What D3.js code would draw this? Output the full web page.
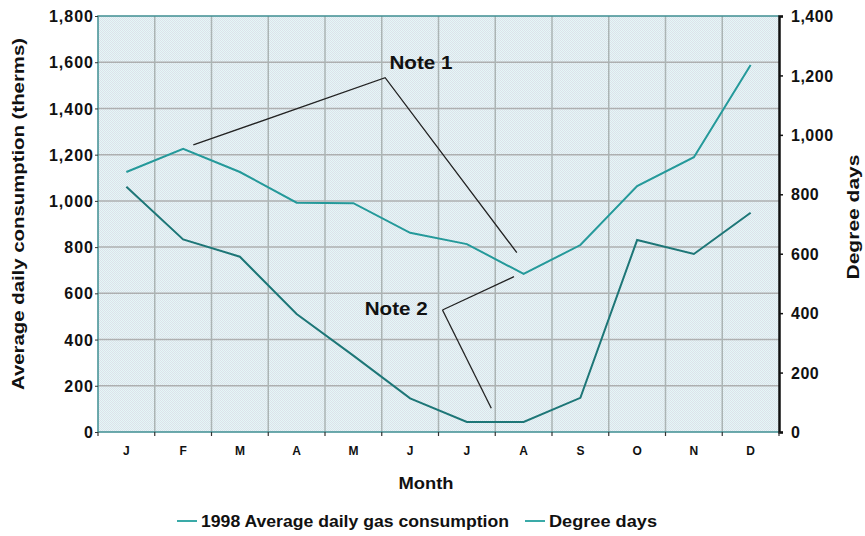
<!DOCTYPE html>
<html>
<head>
<meta charset="utf-8">
<script src="https://cdn.jsdelivr.net/npm/d3@7"></script>
<style>
  body { margin: 0; background: #fff; }
  text { font-family: "Liberation Sans", Arial, sans-serif; font-weight: bold; fill: #111; }
</style>
</head>
<body>
<div class="chart"></div>
<script>
const months = ["J", "F", "M", "A", "M", "J", "J", "A", "S", "O", "N", "D"];
const gasUse = [1125, 1225, 1125, 992, 990, 862, 813, 684, 809, 1064, 1189, 1588];
const degreeDays = [825, 648, 590, 397, 257, 113, 34, 34, 115, 646, 599, 738];
const leftTicks = [0, 200, 400, 600, 800, 1000, 1200, 1400, 1600, 1800];
const rightTicks = [0, 200, 400, 600, 800, 1000, 1200, 1400];

// leader lines, in month index / therms
const note1 = [[1.18, 1242], [4.56, 1533], [6.88, 776]];
const note2a = [[6.83, 672], [5.57, 528]];
const note2b = [[5.57, 528], [6.43, 103]];
const notes = [
  { label: "Note 1", m: 5.19, v: 1571, anchor: "middle" },
  { label: "Note 2", m: 5.31, v: 506, anchor: "end" }
];

const W = 865, H = 536;
const pLeft = 98, pRight = 779, pTop = 16, pBottom = 432;

const svg = d3.select(".chart")
  .append("svg")
  .attr("width", W)
  .attr("height", H);

const xBand = d3.scaleBand().domain(d3.range(12)).range([pLeft, pRight]);
const xm = d3.scaleLinear().domain([-0.5, 11.5]).range([pLeft, pRight]);
const yL = d3.scaleLinear().domain([0, 1800]).range([pBottom, pTop]);
const yR = d3.scaleLinear().domain([0, 1400]).range([pBottom, pTop]);

// dotted background
const defs = svg.append("defs");
const pat = defs.append("pattern")
  .attr("id", "dots")
  .attr("width", 2)
  .attr("height", 2)
  .attr("patternUnits", "userSpaceOnUse");
pat.append("rect").attr("width", 2).attr("height", 2).attr("fill", "#e4f7f7");
pat.append("rect").attr("width", 1).attr("height", 1).attr("fill", "#dde1ea");
pat.append("rect").attr("x", 1).attr("y", 1).attr("width", 1).attr("height", 1).attr("fill", "#dde1ea");

svg.append("rect")
  .attr("x", pLeft).attr("y", pTop)
  .attr("width", pRight - pLeft).attr("height", pBottom - pTop)
  .attr("fill", "url(#dots)");

// grid
svg.append("g")
  .selectAll("line")
  .data(leftTicks.slice(1, -1))
  .join("line")
  .attr("x1", pLeft).attr("x2", pRight)
  .attr("y1", d => yL(d)).attr("y2", d => yL(d))
  .attr("stroke", "#aeafb0").attr("stroke-width", 1.5);

svg.append("g")
  .selectAll("line")
  .data(d3.range(1, 12))
  .join("line")
  .attr("x1", d => xm(d - 0.5)).attr("x2", d => xm(d - 0.5))
  .attr("y1", pTop).attr("y2", pBottom)
  .attr("stroke", "#abb4b4").attr("stroke-width", 1.5);

// frame: teal top/left/bottom
svg.append("path")
  .attr("d", `M${pRight},${pTop}H${pLeft}V${pBottom}H${pRight}`)
  .attr("fill", "none")
  .attr("stroke", "#3f8f92")
  .attr("stroke-width", 1.5);

// left axis
const axL = svg.append("g")
  .attr("transform", `translate(${pLeft},0)`)
  .call(d3.axisLeft(yL).tickValues(leftTicks).tickSize(3).tickPadding(1).tickFormat(d3.format(",")));
axL.select(".domain").remove();
axL.selectAll("line").attr("stroke", "#333");
axL.selectAll("text").attr("font-size", 16).attr("font-family", null).attr("dy", "0.35em").style("letter-spacing", "1px");

// right axis
const axR = svg.append("g")
  .attr("transform", `translate(${pRight},0)`)
  .call(d3.axisRight(yR).tickValues(rightTicks).tickSize(4).tickPadding(8).tickFormat(d3.format(",")));
axR.select(".domain").attr("stroke", "#111").attr("stroke-width", 2.5);
axR.selectAll("line").attr("stroke", "#111").attr("stroke-width", 1.5);
axR.selectAll("text").attr("font-size", 16).attr("font-family", null).attr("dy", "0.35em").style("letter-spacing", "0.5px");

// bottom ticks at month boundaries
svg.append("g")
  .selectAll("line")
  .data(d3.range(13))
  .join("line")
  .attr("x1", d => xm(d - 0.5)).attr("x2", d => xm(d - 0.5))
  .attr("y1", pBottom).attr("y2", pBottom + 4)
  .attr("stroke", "#333").attr("stroke-width", 1.2);

const axB = svg.append("g")
  .attr("transform", `translate(0,${pBottom})`)
  .call(d3.axisBottom(xBand).tickSize(0).tickPadding(14).tickFormat(i => months[i]));
axB.select(".domain").remove();
axB.selectAll("text").attr("font-size", 12).attr("font-family", null);

// series
const lineL = d3.line().x((d, i) => xBand(i) + xBand.bandwidth() / 2).y(d => yL(d));
const lineR = d3.line().x((d, i) => xBand(i) + xBand.bandwidth() / 2).y(d => yR(d));

svg.append("path")
  .datum(gasUse)
  .attr("d", lineL)
  .attr("fill", "none")
  .attr("stroke", "#24999a")
  .attr("stroke-width", 2);

svg.append("path")
  .datum(degreeDays)
  .attr("d", lineR)
  .attr("fill", "none")
  .attr("stroke", "#1d7677")
  .attr("stroke-width", 2);

// notes
const leader = d3.line().x(d => xm(d[0])).y(d => yL(d[1]));
[note1, note2a, note2b].forEach(pts => {
  svg.append("path")
    .attr("d", leader(pts))
    .attr("fill", "none")
    .attr("stroke", "#222")
    .attr("stroke-width", 1.3);
});

svg.selectAll(".note")
  .data(notes)
  .join("text")
  .attr("class", "note")
  .attr("x", d => xm(d.m))
  .attr("y", d => yL(d.v))
  .attr("text-anchor", d => d.anchor)
  .attr("font-size", 18)
  .attr("textLength", 63)
  .attr("lengthAdjust", "spacingAndGlyphs")
  .text(d => d.label);

// axis titles
svg.append("text")
  .attr("transform", "translate(24,214) rotate(-90)")
  .attr("text-anchor", "middle")
  .attr("font-size", 16)
  .attr("textLength", 352)
  .attr("lengthAdjust", "spacingAndGlyphs")
  .text("Average daily consumption (therms)");

svg.append("text")
  .attr("transform", "translate(859,217) rotate(-90)")
  .attr("text-anchor", "middle")
  .attr("font-size", 16)
  .attr("textLength", 125)
  .attr("lengthAdjust", "spacingAndGlyphs")
  .text("Degree days");

svg.append("text")
  .attr("x", 426)
  .attr("y", 489)
  .attr("text-anchor", "middle")
  .attr("font-size", 16)
  .attr("textLength", 55)
  .attr("lengthAdjust", "spacingAndGlyphs")
  .text("Month");

// legend
const legend = [
  { label: "1998 Average daily gas consumption", x: 177, len: 308 },
  { label: "Degree days", x: 525, len: 108 }
];
const lg = svg.append("g")
  .selectAll("g")
  .data(legend)
  .join("g")
  .attr("transform", d => `translate(${d.x},521)`);
lg.append("line")
  .attr("x1", 0).attr("x2", 20)
  .attr("stroke", "#3aaaa8")
  .attr("stroke-width", 2);
lg.append("text")
  .attr("x", 24)
  .attr("y", 6)
  .attr("font-size", 16)
  .attr("textLength", d => d.len)
  .attr("lengthAdjust", "spacingAndGlyphs")
  .text(d => d.label);
</script>
</body>
</html>
